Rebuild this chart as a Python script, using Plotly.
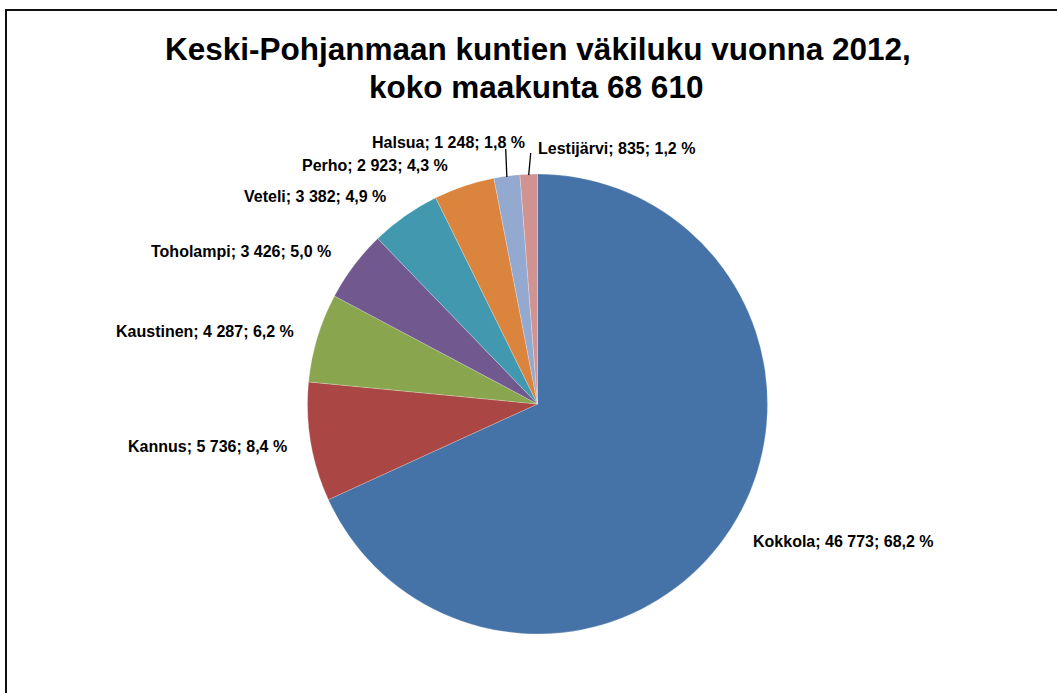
import math
import plotly.graph_objects as go

# ---- data ----
municipalities = ["Kokkola", "Kannus", "Kaustinen", "Toholampi", "Veteli", "Perho", "Halsua", "Lestijärvi"]
population = [46773, 5736, 4287, 3426, 3382, 2923, 1248, 835]
colors = ["#4572A7", "#AA4643", "#89A54E", "#71588F", "#4198AF", "#DB843D", "#93A9CF", "#D19392"]
title_line1 = "Keski-Pohjanmaan kuntien väkiluku vuonna 2012,"
title_line2_prefix = "koko maakunta"

# ---- layout constants (pixels) ----
W, H = 1057, 693
CX, CY, R = 537.5, 404.0, 230.0
FONT = "Liberation Sans, Arial, sans-serif"

# label placement: (x, y of text centre line, xanchor)
label_pos = {
    "Kokkola": (750.5, 541, "left"),
    "Kannus": (289, 446, "right"),
    "Kaustinen": (296, 331, "right"),
    "Toholampi": (333, 251, "right"),
    "Veteli": (388, 197, "right"),
    "Perho": (450, 165, "right"),
    "Halsua": (527, 142, "right"),
    "Lestijärvi": (535.5, 149, "left"),
}
# leader line label ends (pixels)
leader_end = {"Halsua": (505.7, 149), "Lestijärvi": (530.7, 153)}


def px(x):
    return x / W


def py(y):
    return 1 - y / H


def fmt_int(v):
    return f"{v:,}".replace(",", " ")


total = sum(population)

fig = go.Figure(
    go.Pie(
        labels=municipalities,
        values=population,
        sort=False,
        direction="clockwise",
        rotation=0,
        textinfo="none",
        hoverinfo="label+value+percent",
        marker=dict(colors=colors, line=dict(color="rgba(255,255,255,0.45)", width=0.5)),
        domain=dict(x=[px(CX - R), px(CX + R)], y=[py(CY + R), py(CY - R)]),
        showlegend=False,
    )
)

annotations = []
shapes = []
cum = 0
for name, val in zip(municipalities, population):
    frac = val / total
    mid = (cum + frac / 2) * 2 * math.pi
    cum += frac
    pct = f"{100 * frac:.1f}".replace(".", ",")
    text = f"{name}; {fmt_int(val)}; {pct} %"
    lx, ly, anchor = label_pos[name]
    annotations.append(dict(
        x=px(lx), y=py(ly), xref="paper", yref="paper", text=f"<b>{text}</b>",
        showarrow=False, xanchor=anchor, yanchor="middle",
        font=dict(family=FONT, size=16, color="#000000"),
    ))
    if name in leader_end:
        ex = CX + R * math.sin(mid)
        ey = CY - R * math.cos(mid)
        tx, ty = leader_end[name]
        shapes.append(dict(type="line", xref="paper", yref="paper",
                           x0=px(ex), y0=py(ey + 1), x1=px(tx), y1=py(ty),
                           line=dict(color="#000000", width=1.3)))

# title (two lines)
annotations.append(dict(x=px(537.5), y=py(49.5), xref="paper", yref="paper",
                        text=f"<b>{title_line1}</b>", showarrow=False,
                        xanchor="center", yanchor="middle",
                        font=dict(family=FONT, size=31.5, color="#000000")))
annotations.append(dict(x=px(535.5), y=py(86.5), xref="paper", yref="paper",
                        text=f"<b>{title_line2_prefix} {fmt_int(total)}</b>", showarrow=False,
                        xanchor="center", yanchor="middle",
                        font=dict(family=FONT, size=31.5, color="#000000")))

# chart frame
shapes.append(dict(type="rect", xref="paper", yref="paper",
                   x0=px(6), y0=py(H + 20), x1=px(W + 20), y1=py(10),
                   line=dict(color="#111111", width=2), fillcolor="rgba(0,0,0,0)"))

fig.update_layout(
    width=W, height=H,
    margin=dict(l=0, r=0, t=0, b=0),
    paper_bgcolor="white", plot_bgcolor="white",
    annotations=annotations, shapes=shapes,
    font=dict(family=FONT),
)

fig.write_html("out.html", config={"displayModeBar": False},
               post_script="document.body.style.margin='0';document.body.style.overflow='hidden';")
